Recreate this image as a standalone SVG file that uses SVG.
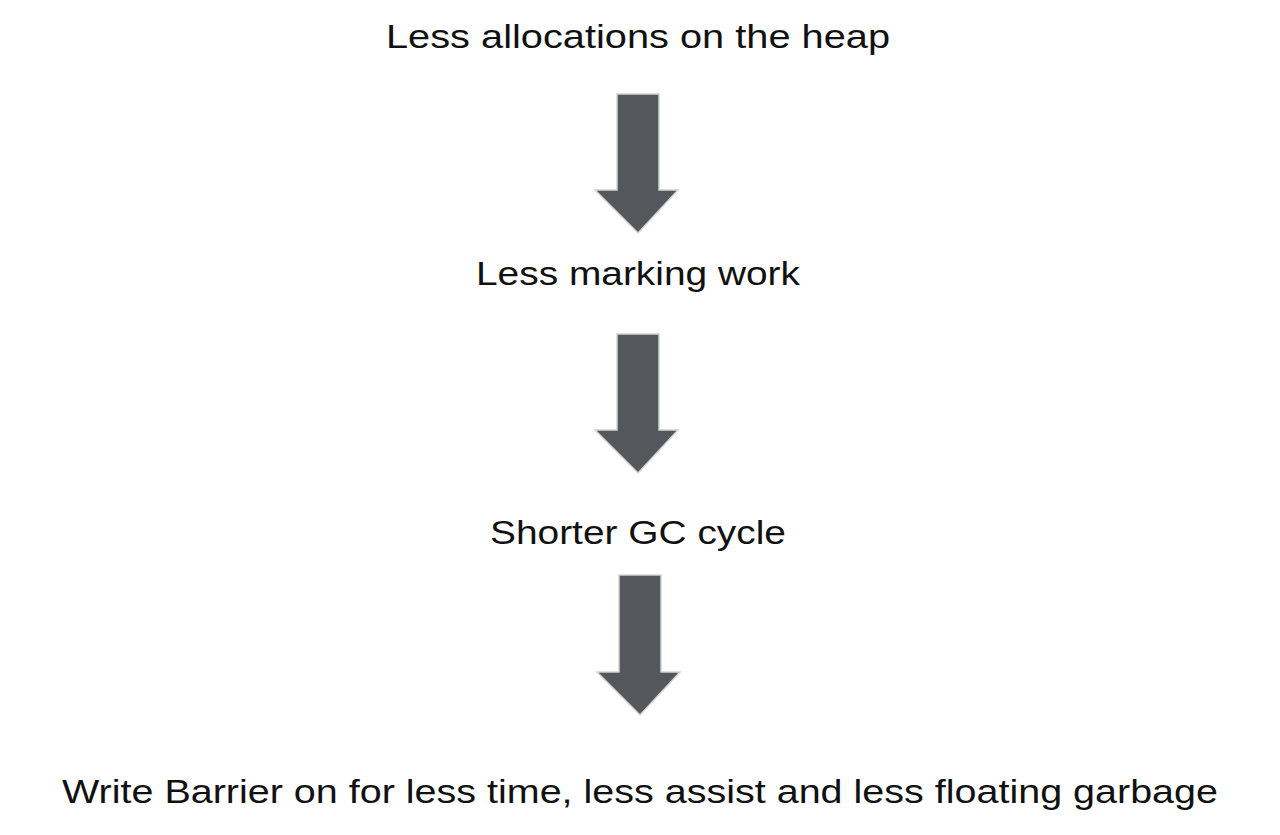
<svg xmlns="http://www.w3.org/2000/svg" width="1280" height="835" viewBox="0 0 1280 835">
<style>
.lbl{font-family:"Liberation Sans","Noto Sans",Arial,sans-serif;font-size:34px;fill:#111;text-anchor:middle}
.arr{fill:#54575c;stroke:#d4d4d4;stroke-width:1.5;stroke-linejoin:miter}
</style>
<rect width="1280" height="835" fill="#ffffff"/>
<g id="connectors">
<path class="arr" d="M617,94 H659 V190 H678 L638,233 L595,190 H617 Z"/>
<path class="arr" d="M617,334 H659 V430 H678 L638,473 L595,430 H617 Z"/>
<path class="arr" d="M619,575 H661 V672 H680 L640,715 L597,672 H619 Z"/>
</g>
<g id="node1"><text class="lbl" x="638" y="48" textLength="504" lengthAdjust="spacingAndGlyphs">Less allocations on the heap</text></g>
<g id="node2"><text class="lbl" x="638" y="285" textLength="324" lengthAdjust="spacingAndGlyphs">Less marking work</text></g>
<g id="node3"><text class="lbl" x="638" y="544" textLength="296" lengthAdjust="spacingAndGlyphs">Shorter GC cycle</text></g>
<g id="node4"><text class="lbl" x="640" y="803" textLength="1156" lengthAdjust="spacingAndGlyphs">Write Barrier on for less time, less assist and less floating garbage</text></g>
</svg>
